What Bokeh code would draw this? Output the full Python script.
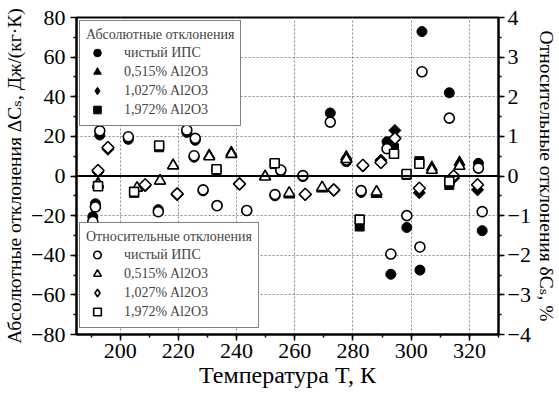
import numpy as np
from bokeh.plotting import figure
from bokeh.models import (Range1d, LinearAxis, FixedTicker, Legend, LegendItem, Span)
from bokeh.embed import file_html
from bokeh.resources import INLINE

# ---- data ----
# pure IPS (circles)
t_ips = [190.6, 191.5, 193.0, 202.8, 213.1, 222.9, 225.8, 225.4, 228.5, 233.3, 243.5, 253.2, 255.2,
         262.8, 272.2, 277.7, 282.8, 291.7, 293.0, 298.5, 303.0, 303.7, 313.1, 323.1, 324.4]
abs_ips = [-20.5, -14.0, 20.7, 18.5, -17.0, 22.0, 18.0, 9.5, -7.5, -14.8, -17.5, -10.0, 2.5,
           -0.3, 31.8, 7.2, -8.3, 17.3, -49.6, -26.0, -47.5, 72.9, 42.0, 6.4, -27.6]
rel_ips = [-1.15, -0.78, 1.14, 0.99, -0.90, 1.16, 0.95, 0.51, -0.35, -0.75, -0.87, -0.47, 0.15,
           0.01, 1.36, 0.40, -0.37, 0.69, -1.97, -1.00, -1.79, 2.63, 1.46, 0.20, -0.90]
# 0.515% Al2O3 (triangles)
t_a = [192.4, 205.8, 213.7, 218.2, 230.6, 238.2, 249.8, 258.1, 269.4, 277.7, 288.1, 307.1, 316.6]
abs_a = [-3.5, -6.2, -2.5, 5.6, 10.5, 12.0, 0.0, -9.5, -6.5, 9.8, -9.2, 4.5, 7.0]
rel_a = [-0.22, -0.30, -0.12, 0.26, 0.49, 0.55, -0.02, -0.43, -0.29, 0.42, -0.40, 0.15, 0.25]
# 1.027% Al2O3 (diamonds)
t_b = [192.4, 195.8, 208.6, 219.6, 241.0, 263.6, 273.4, 283.4, 289.6, 294.4, 302.8, 314.6, 322.8]
abs_b = [2.0, 13.5, -5.0, -9.5, -4.0, -9.5, -7.3, 5.0, 8.0, 23.0, -8.5, -1.0, -7.0]
rel_b = [0.14, 0.72, -0.22, -0.45, -0.20, -0.46, -0.35, 0.27, 0.34, 0.95, -0.31, 0.00, -0.22]
# 1.972% Al2O3 (squares)
t_c = [192.4, 204.8, 213.4, 233.1, 253.1, 282.3, 294.1, 298.4, 302.8, 313.1]
abs_c = [-5.0, -8.5, 14.5, 3.0, 6.0, -25.5, 14.0, 0.5, 7.5, -4.5]
rel_c = [-0.26, -0.40, 0.77, 0.17, 0.32, -1.10, 0.56, 0.05, 0.31, -0.14]

names = ["чистый ИПС", "0,515% Al2O3", "1,027% Al2O3", "1,972% Al2O3"]
x_ticks = [200, 220, 240, 260, 280, 300, 320]
y_ticks = [-80, -60, -40, -20, 0, 20, 40, 60, 80]
y2_ticks = [-4, -3, -2, -1, 0, 1, 2, 3, 4]

FONT = "'Liberation Serif', 'DejaVu Serif', serif"

p = figure(width=559, height=396, x_range=Range1d(185, 330), y_range=Range1d(-80, 80),
           output_backend="svg", toolbar_location=None,
           min_border_left=76, min_border_right=56, min_border_top=17, min_border_bottom=62)
p.extra_y_ranges = {"rel": Range1d(-4, 4)}

p.outline_line_color = "black"
p.outline_line_width = 2
p.background_fill_color = "white"

# grids
p.xgrid.ticker = FixedTicker(ticks=x_ticks)
p.ygrid.ticker = FixedTicker(ticks=[v for v in y_ticks if v not in (0, -80, 80)])
for g in (p.xgrid, p.ygrid):
    g.grid_line_color = "#8a8a8a"
    g.grid_line_dash = "2 2"
    g.grid_line_width = 1

p.add_layout(Span(location=0, dimension="width", line_color="black", line_width=2))

def style_axis(ax):
    ax.axis_line_width = 2
    ax.axis_line_color = "black"
    ax.major_tick_line_width = 1.5
    ax.minor_tick_line_width = 1.5
    ax.major_tick_out = 6
    ax.major_tick_in = 0
    ax.minor_tick_out = 3
    ax.minor_tick_in = 0
    ax.major_label_text_font = FONT
    ax.major_label_text_font_size = "22px"
    ax.major_label_text_color = "black"
    ax.axis_label_text_font = FONT
    ax.axis_label_text_font_style = "normal"
    ax.axis_label_text_color = "black"

xa = p.xaxis[0]
style_axis(xa)
xa.ticker = FixedTicker(ticks=x_ticks, minor_ticks=list(range(190, 331, 10)))
xa.axis_label = "Температура T, К"
xa.axis_label_text_font_size = "24px"
xa.axis_label_standoff = 1
xa.major_label_standoff = 3

ya = p.yaxis[0]
style_axis(ya)
ya.ticker = FixedTicker(ticks=y_ticks, minor_ticks=list(range(-70, 71, 10)))
ya.major_label_standoff = 5
ya.axis_label = "Абсолютные отклонения ΔCₛ, Дж/(кг·К)"
ya.axis_label_text_font_size = "19.5px"
ya.axis_label_standoff = 3

ya2 = LinearAxis(y_range_name="rel",
                 ticker=FixedTicker(ticks=y2_ticks, minor_ticks=[v / 2 for v in range(-7, 8)]))
style_axis(ya2)
ya2.major_label_standoff = 3
ya2.axis_label = "Относительные отклонения δCₛ, %"
ya2.axis_label_text_font_size = "19.5px"
ya2.axis_label_standoff = 2
p.add_layout(ya2, "right")

series = [
    (t_ips, abs_ips, rel_ips, "circle", 10, 0),
    (t_a, abs_a, rel_a, "triangle", 11, 0),
    (t_b, abs_b, rel_b, "square", 8.5, np.pi / 4),
    (t_c, abs_c, rel_c, "square", 9, 0),
]

filled_r = []
for t, a, r, m, s, ang in series:
    filled_r.append(p.scatter(t, a, marker=m, size=s, angle=ang,
                              fill_color="black", line_color="black", line_width=1))
open_r = []
for t, a, r, m, s, ang in series:
    open_r.append(p.scatter(t, r, marker=m, size=s, angle=ang, y_range_name="rel",
                            fill_color="white", line_color="black", line_width=1.6))

# legend proxies (one NaN point each, never drawn on the plot)
legend_markers = ["circle", "triangle", "diamond", "square"]
leg_f, leg_o = [], []
for m in legend_markers:
    leg_f.append(p.scatter([np.nan], [np.nan], marker=m, size=10,
                           fill_color="black", line_color="black", line_width=1))
    leg_o.append(p.scatter([np.nan], [np.nan], marker=m, size=10,
                           fill_color="white", line_color="black", line_width=1.6))

def make_legend(title, rends, loc):
    lg = Legend(items=[LegendItem(label=n, renderers=[rr], index=0) for n, rr in zip(names, rends)],
                title=title, location=loc)
    lg.title_text_font = FONT
    lg.title_text_font_size = "14px"
    lg.title_text_font_style = "normal"
    lg.title_standoff = 0
    lg.label_text_font = FONT
    lg.label_text_font_size = "14px"
    lg.label_height = 19
    lg.glyph_height = 19
    lg.glyph_width = 22
    lg.label_standoff = 16
    lg.spacing = 0
    lg.padding = 6
    lg.margin = 3
    lg.border_line_color = "black"
    lg.border_line_width = 1.2
    lg.background_fill_alpha = 1
    return lg

p.add_layout(make_legend("Абсолютные отклонения", leg_f, "top_left"), "center")
p.add_layout(make_legend("Относительные отклонения", leg_o, (3, 6)), "center")

open("out.html", "w").write(file_html(p, INLINE))
